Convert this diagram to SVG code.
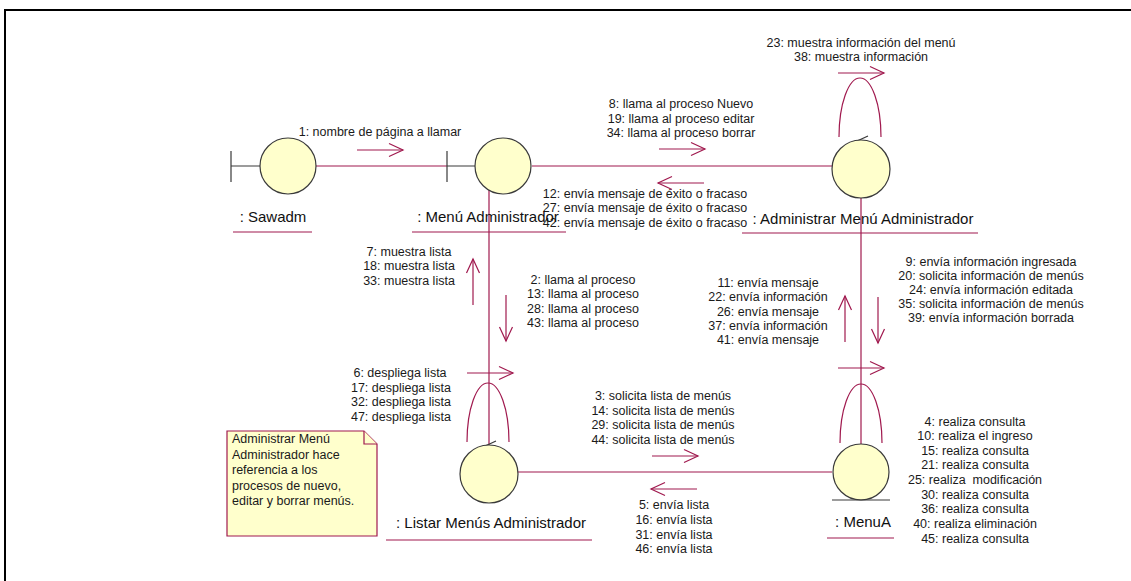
<svg xmlns="http://www.w3.org/2000/svg" width="1131" height="581" viewBox="0 0 1131 581">
  <defs>
    <marker id="open" markerUnits="userSpaceOnUse" markerWidth="16" markerHeight="15" refX="14" refY="6.5" orient="auto" overflow="visible">
      <path d="M0,0 L14,6.5 L0,13" fill="none" stroke="#A0194E" stroke-width="1.2"/>
    </marker>
  </defs>
  <style>
    .frame { fill: none; stroke: #000; stroke-width: 2; }
    .obj { fill: #FFFFCC; stroke: #3a3a3a; stroke-width: 1.2; }
    .sym { fill: none; stroke: #3a3a3a; stroke-width: 1.2; }
    .link { fill: none; stroke: #A0194E; stroke-width: 1.2; }
    .msg { fill: none; stroke: #A0194E; stroke-width: 1.2; marker-end: url(#open); }
    .uline { stroke: #A0194E; stroke-width: 1.2; }
    .name { font-family: "Liberation Sans", Arial, sans-serif; font-size: 15px; fill: #111; text-anchor: middle; }
    .lbl { font-family: "Liberation Sans", Arial, sans-serif; font-size: 12.5px; fill: #1a1a1a; text-anchor: middle; }
    .note { fill: #FFFFCC; stroke: #A0194E; stroke-width: 1.2; }
    .notetxt { font-family: "Liberation Sans", Arial, sans-serif; font-size: 12.5px; fill: #1a1a1a; }
  </style>

  <rect width="1131" height="581" fill="#fff"/>
  <path class="frame" d="M5,581 V10 H1131"/>

  <!-- connectors and messages -->
  <g id="connectors">
    <path class="link" d="M316,166 H447"/>
    <path class="link" d="M532,166 H832"/>
    <path class="link" d="M489,190 V445"/>
    <path class="link" d="M861,198 V444"/>
    <path class="link" d="M518,472 H832"/>
    <!-- self links -->
    <path class="link" d="M839,137 A21,59 0 0 1 881,137"/>
    <path class="sym" d="M868,136 L855,142 L868,147"/>
    <path class="link" d="M467,442 A21,59 0 0 1 509,442"/>
    <path class="sym" d="M496,441 L483,447 L496,453"/>
    <path class="link" d="M840,443 A21,59 0 0 1 882,443"/>

    <!-- message arrows -->
    <path class="msg" d="M357,150 H403"/>
    <path class="msg" d="M659,149 H705"/>
    <path class="msg" d="M704,183 H658"/>
    <path class="msg" d="M838,73 H884"/>
    <path class="msg" d="M473,305 V259"/>
    <path class="msg" d="M506,295 V341"/>
    <path class="msg" d="M467,373 H513"/>
    <path class="msg" d="M845,342 V296"/>
    <path class="msg" d="M878,297 V343"/>
    <path class="msg" d="M838,368 H884"/>
    <path class="msg" d="M652,456 H698"/>
    <path class="msg" d="M697,489 H651"/>

    <!-- message labels -->
    <text class="lbl" x="380" y="136">1: nombre de página a llamar</text>
    <text class="lbl"><tspan x="681" y="108">8: llama al proceso Nuevo</tspan><tspan x="681" y="123">19: llama al proceso editar</tspan><tspan x="681" y="137">34: llama al proceso borrar</tspan></text>
    <text class="lbl"><tspan x="645" y="198">12: envía mensaje de éxito o fracaso</tspan><tspan x="645" y="212">27: envía mensaje de éxito o fracaso</tspan><tspan x="645" y="227">42: envía mensaje de éxito o fracaso</tspan></text>
    <text class="lbl"><tspan x="861" y="47">23: muestra información del menú</tspan><tspan x="861" y="61">38: muestra información</tspan></text>
    <text class="lbl"><tspan x="409" y="256">7: muestra lista</tspan><tspan x="409" y="270">18: muestra lista</tspan><tspan x="409" y="285">33: muestra lista</tspan></text>
    <text class="lbl"><tspan x="583" y="284">2: llama al proceso</tspan><tspan x="583" y="298">13: llama al proceso</tspan><tspan x="583" y="313">28: llama al proceso</tspan><tspan x="583" y="327">43: llama al proceso</tspan></text>
    <text class="lbl"><tspan x="400" y="377">6: despliega lista</tspan><tspan x="401" y="392">17: despliega lista</tspan><tspan x="401" y="406">32: despliega lista</tspan><tspan x="401" y="421">47: despliega lista</tspan></text>
    <text class="lbl"><tspan x="768" y="287">11: envía mensaje</tspan><tspan x="768" y="301">22: envía información</tspan><tspan x="768" y="316">26: envía mensaje</tspan><tspan x="768" y="330">37: envía información</tspan><tspan x="768" y="344">41: envía mensaje</tspan></text>
    <text class="lbl"><tspan x="991" y="266">9: envía información ingresada</tspan><tspan x="991" y="280">20: solicita información de menús</tspan><tspan x="991" y="294">24: envía información editada</tspan><tspan x="991" y="308">35: solicita información de menús</tspan><tspan x="991" y="322">39: envía información borrada</tspan></text>
    <text class="lbl"><tspan x="663" y="400">3: solicita lista de menús</tspan><tspan x="663" y="415">14: solicita lista de menús</tspan><tspan x="663" y="429">29: solicita lista de menús</tspan><tspan x="663" y="444">44: solicita lista de menús</tspan></text>
    <text class="lbl"><tspan x="674" y="509">5: envía lista</tspan><tspan x="674" y="524">16: envía lista</tspan><tspan x="674" y="539">31: envía lista</tspan><tspan x="674" y="553">46: envía lista</tspan></text>
    <text class="lbl"><tspan x="975" y="426">4: realiza consulta</tspan><tspan x="975" y="440">10: realiza el ingreso</tspan><tspan x="975" y="455">15: realiza consulta</tspan><tspan x="975" y="469">21: realiza consulta</tspan><tspan x="975" y="484">25: realiza&#160; modificación</tspan><tspan x="975" y="499">30: realiza consulta</tspan><tspan x="975" y="513">36: realiza consulta</tspan><tspan x="975" y="528">40: realiza eliminación</tspan><tspan x="975" y="543">45: realiza consulta</tspan></text>
  </g>

  <!-- boundary object: Sawadm -->
  <g id="sawadm">
    <path class="sym" d="M231,151 V182 M231,166 H260"/>
    <circle class="obj" cx="288" cy="166" r="28"/>
    <text class="name" x="273" y="222">: Sawadm</text>
    <line class="uline" x1="233" y1="232" x2="312" y2="232"/>
  </g>

  <!-- boundary object: Menú Administrador -->
  <g id="menu-administrador">
    <path class="sym" d="M447,151 V182 M447,166 H475"/>
    <circle class="obj" cx="503" cy="166" r="28"/>
    <text class="name" x="488" y="222">: Menú Administrador</text>
    <line class="uline" x1="412" y1="232" x2="566" y2="232"/>
  </g>

  <!-- control object: Administrar Menú Administrador -->
  <g id="administrar-menu">
    <circle class="obj" cx="861" cy="169" r="29"/>
    <text class="name" x="863" y="224">: Administrar Menú Administrador</text>
    <line class="uline" x1="742" y1="233" x2="978" y2="233"/>
  </g>

  <!-- control object: Listar Menús Administrador -->
  <g id="listar-menus">
    <circle class="obj" cx="489" cy="474" r="29"/>
    <text class="name" x="491" y="528">: Listar Menús Administrador</text>
    <line class="uline" x1="386" y1="540" x2="592" y2="540"/>
  </g>

  <!-- entity object: MenuA -->
  <g id="menua">
    <circle class="obj" cx="861" cy="472" r="28"/>
    <line class="sym" x1="832" y1="500" x2="890" y2="500"/>
    <text class="name" x="863" y="527">: MenuA</text>
    <line class="uline" x1="827" y1="538" x2="894" y2="538"/>
  </g>

  <!-- note -->
  <g id="note">
    <path class="note" d="M227,431 H364 L377,444 V536 H227 Z"/>
    <path class="note" d="M364,431 V444 H377" fill="none"/>
    <text class="notetxt"><tspan x="232" y="443">Administrar Menú</tspan><tspan x="232" y="459">Administrador hace</tspan><tspan x="232" y="474">referencia a los</tspan><tspan x="232" y="490">procesos de nuevo,</tspan><tspan x="232" y="505">editar y borrar menús.</tspan></text>
  </g>
</svg>
